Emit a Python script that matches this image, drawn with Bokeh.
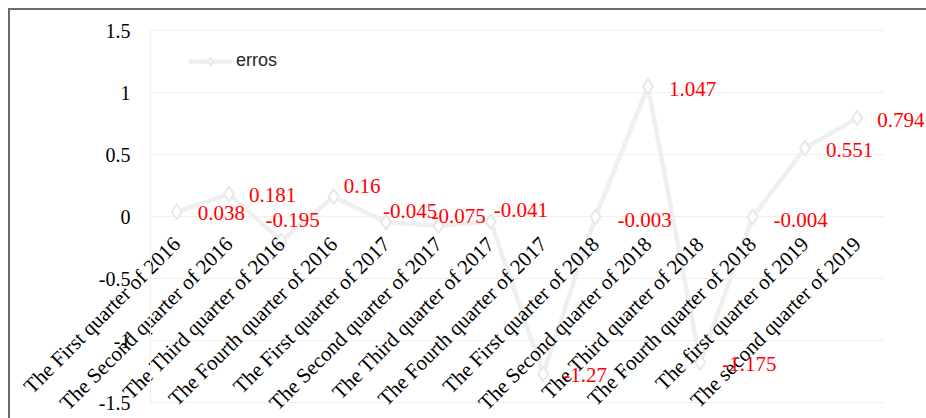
from bokeh.plotting import figure
from bokeh.models import ColumnDataSource, Range1d, FixedTicker, Legend, LegendItem, LabelSet
from bokeh.embed import file_html
from bokeh.resources import INLINE
import math

quarters = [
    "The First quarter of 2016", "The Second quarter of 2016",
    "The Third quarter of 2016", "The Fourth quarter of 2016",
    "The First quarter of 2017", "The Second quarter of 2017",
    "The Third quarter of 2017", "The Fourth quarter of 2017",
    "The First quarter of 2018", "The Second quarter of 2018",
    "The Third quarter of 2018", "The Fourth quarter of 2018",
    "The first quarter of 2019", "The second quarter of 2019",
]
erros = [0.038, 0.181, -0.195, 0.16, -0.045, -0.075, -0.041,
         -1.27, -0.003, 1.047, -1.175, -0.004, 0.551, 0.794]
y_ticks = [-1.5, -1, -0.5, 0, 0.5, 1, 1.5]
y_tick_labels = ["-1.5", "-1", "-0.5", "0", "0.5", "1", "1.5"]
series_name = "erros"
axis_cross = 0  # category axis crosses the value axis at 0

# label placement offsets (pixels, +x right, +y up), style only
label_dx = [21, 20, -16, 10, -3, -7, 3, 20, 22, 21, 22, 21, 21, 20]
label_dy = [-1, -1, 21, 11, 11, 10, 12, -1, -3, -2, -2, -3, -2, -2]

SERIF = "Liberation Serif"
SANS = "Liberation Sans"

# ---- layout (pixels) ----
W, H = 926, 418
PLOT_L, PLOT_R, PLOT_T, PLOT_B = 150, 883, 30, 402   # plot area inside the canvas

n = len(quarters)
idx = list(range(n))
cat_lo, cat_hi = -0.5, n - 0.5
y_lo, y_hi = y_ticks[0], y_ticks[-1]
px_per_cat = (PLOT_R - PLOT_L) / (cat_hi - cat_lo)
px_per_val = (PLOT_B - PLOT_T) / (y_hi - y_lo)
x_range = Range1d(cat_lo - PLOT_L / px_per_cat, cat_hi + (W - PLOT_R) / px_per_cat)
y_range = Range1d(y_lo - (H - PLOT_B) / px_per_val, y_hi + PLOT_T / px_per_val)

source = ColumnDataSource(dict(
    x=idx, y=erros, txt=[str(v) for v in erros], dx=label_dx, dy=label_dy,
))

p = figure(
    width=W, height=H, x_range=x_range, y_range=y_range,
    output_backend="svg", toolbar_location=None, min_border=0,
)
p.outline_line_color = None
p.background_fill_alpha = 0
p.border_fill_alpha = 0
p.styles = {"background": "white",
            "box-shadow": "inset 8px 8px 0 0 white, inset 10px 10px 0 0 #6b6b6b"}

p.xgrid.visible = False
p.ygrid.visible = False

# value gridlines restricted to the plot area
p.segment(x0=[cat_lo] * len(y_ticks), x1=[cat_hi] * len(y_ticks),
          y0=y_ticks, y1=y_ticks, line_color="#efefef", line_width=1)

# value axis at the left edge of the plot area
p.yaxis.fixed_location = cat_lo
p.yaxis.bounds = (y_lo, y_hi)
p.yaxis.ticker = FixedTicker(ticks=y_ticks)
p.yaxis.major_label_overrides = {t: l for t, l in zip(y_ticks, y_tick_labels)}
p.yaxis.axis_line_color = "#efefef"
p.yaxis.major_tick_line_color = None
p.yaxis.minor_tick_line_color = None
p.yaxis.major_tick_out = 0
p.yaxis.major_tick_in = 0
p.yaxis.major_label_text_font = SERIF
p.yaxis.major_label_text_font_size = "20px"
p.yaxis.major_label_text_color = "black"
p.yaxis.major_label_standoff = 20

# category axis crossing at 0
p.xaxis.fixed_location = axis_cross
p.xaxis.ticker = FixedTicker(ticks=idx)
p.xaxis.major_label_overrides = {i: q for i, q in zip(idx, quarters)}
p.xaxis.axis_line_color = None
p.xaxis.major_tick_line_color = None
p.xaxis.minor_tick_line_color = None
p.xaxis.major_tick_out = 0
p.xaxis.major_tick_in = 0
p.xaxis.major_label_orientation = math.pi / 4
p.xaxis.major_label_text_font = SERIF
p.xaxis.major_label_text_font_size = "21px"
p.xaxis.major_label_text_color = "black"
p.xaxis.major_label_standoff = 24

line_r = p.line("x", "y", source=source, line_color="#efefef", line_width=4.5)
mark_r = p.scatter("x", "y", source=source, marker="diamond", size=15,
                   fill_color="white", line_color="#e8e8e8", line_width=2)

val_labels = LabelSet(x="x", y="y", text="txt", source=source,
                      x_offset="dx", y_offset="dy",
                      text_font=SERIF, text_font_size="21px", text_color="red",
                      text_align="left", text_baseline="middle")
p.add_layout(val_labels)

legend = Legend(items=[LegendItem(label=series_name, renderers=[line_r, mark_r])],
                location=(188, 347), orientation="horizontal",
                glyph_width=44, glyph_height=20, label_standoff=4, padding=0,
                spacing=0, margin=0,
                border_line_color=None, background_fill_alpha=0,
                label_text_font=SANS, label_text_font_size="18px",
                label_text_color="#262626")
p.add_layout(legend, "center")

open("out.html", "w").write(file_html(p, INLINE))
